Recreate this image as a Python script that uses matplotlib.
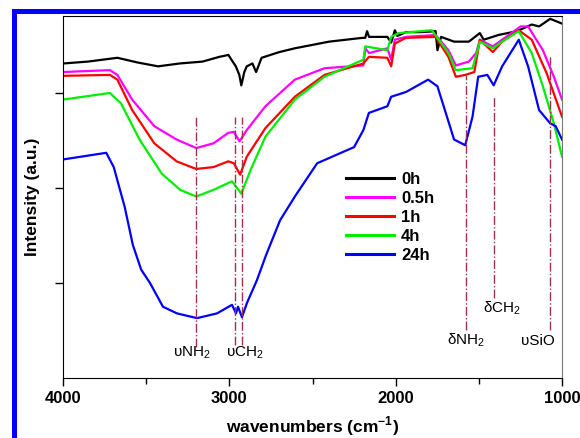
import numpy as np
import matplotlib
matplotlib.use("Agg")
import matplotlib.pyplot as plt
from matplotlib.lines import Line2D

plt.rcParams['font.family'] = ['Liberation Sans', 'DejaVu Sans']
plt.rcParams['mathtext.fontset'] = 'custom'
plt.rcParams['mathtext.rm'] = 'Liberation Sans'
plt.rcParams['mathtext.bf'] = 'Liberation Sans:bold'

# spectra (wavenumber, intensity a.u.)
w_0h = [4000, 3850, 3673, 3550, 3428, 3300, 3161, 3060, 3006, 2961, 2940, 2928, 2910, 2895, 2861, 2839,
        2806, 2700, 2606, 2400, 2200, 2183, 2172, 2160, 2050, 2027, 2005, 1990, 1938, 1850, 1760, 1749,
        1727, 1649, 1560, 1494, 1471, 1382, 1271, 1182, 1138, 1071, 1000]
i_0h = [3.31, 3.33, 3.37, 3.32, 3.28, 3.31, 3.33, 3.38, 3.40, 3.28, 3.19, 3.08, 3.22, 3.28, 3.31, 3.22,
        3.37, 3.43, 3.47, 3.54, 3.58, 3.58, 3.65, 3.59, 3.59, 3.53, 3.66, 3.60, 3.64, 3.64, 3.65, 3.45,
        3.59, 3.54, 3.54, 3.63, 3.56, 3.61, 3.65, 3.72, 3.70, 3.78, 3.73]

w_05h = [4000, 3718, 3673, 3584, 3451, 3317, 3199, 3095, 3006, 2973, 2939, 2895, 2783, 2606, 2428, 2194,
         2183, 2160, 2050, 2027, 2005, 1938, 1760, 1683, 1638, 1560, 1516, 1494, 1416, 1360, 1249, 1204,
         1115, 1049, 1000]
i_05h = [3.22, 3.24, 3.19, 2.93, 2.65, 2.51, 2.42, 2.47, 2.58, 2.59, 2.49, 2.61, 2.86, 3.14, 3.26, 3.29,
         3.47, 3.42, 3.47, 3.35, 3.56, 3.59, 3.61, 3.45, 3.29, 3.33, 3.42, 3.56, 3.49, 3.56, 3.70, 3.70,
         3.45, 3.17, 2.93]

w_1h = [4000, 3718, 3673, 3584, 3451, 3317, 3199, 3095, 3006, 2973, 2935, 2895, 2783, 2606, 2428, 2194,
        2161, 2050, 2027, 2005, 1938, 1760, 1683, 1638, 1582, 1527, 1494, 1416, 1360, 1260, 1182, 1093,
        1000]
i_1h = [3.18, 3.19, 3.14, 2.82, 2.47, 2.28, 2.20, 2.22, 2.28, 2.26, 2.14, 2.33, 2.63, 2.96, 3.19, 3.31,
        3.38, 3.37, 3.28, 3.52, 3.58, 3.59, 3.38, 3.17, 3.19, 3.22, 3.56, 3.43, 3.54, 3.66, 3.56, 3.21,
        2.75]

w_4h = [4000, 3718, 3651, 3540, 3406, 3295, 3199, 3095, 2984, 2928, 2872, 2783, 2606, 2428, 2194, 2183,
        2050, 2027, 1983, 1783, 1683, 1638, 1538, 1494, 1416, 1360, 1260, 1182, 1115, 1049, 1000]
i_4h = [2.93, 3.00, 2.89, 2.51, 2.15, 1.98, 1.91, 1.98, 2.07, 1.94, 2.19, 2.54, 2.93, 3.17, 3.35, 3.49,
        3.45, 3.59, 3.63, 3.66, 3.42, 3.24, 3.26, 3.54, 3.47, 3.54, 3.65, 3.42, 3.07, 2.68, 2.33]

w_24h = [4000, 3740, 3695, 3629, 3580, 3530, 3477, 3399, 3315, 3194, 3074, 2984, 2960, 2948, 2924, 2894,
         2834, 2780, 2695, 2606, 2472, 2250, 2194, 2161, 2050, 2027, 1938, 1805, 1749, 1649, 1582, 1538,
         1504, 1449, 1411, 1360, 1260, 1204, 1138, 1071, 1038, 1000]
i_24h = [2.30, 2.37, 2.22, 1.80, 1.40, 1.14, 1.00, 0.75, 0.68, 0.63, 0.68, 0.77, 0.68, 0.75, 0.64, 0.79,
         1.03, 1.29, 1.66, 1.91, 2.26, 2.43, 2.61, 2.79, 2.86, 2.96, 3.01, 3.14, 3.07, 2.51, 2.45, 2.75,
         3.17, 3.19, 3.08, 3.28, 3.56, 3.28, 2.82, 2.68, 2.65, 2.51]

labels = ['0h', '0.5h', '1h', '4h', '24h']
colors = ['black', '#ff00ff', '#ff0000', '#00ee00', '#0000ff']

# band assignments: position, line top, line bottom, label text, label pos
band_pos = [3200, 2965, 2925, 1580, 1410, 1070]
band_top = [2.77, 2.75, 2.75, 3.19, 2.96, 3.38]
band_bottom = [0.33, 0.35, 0.35, 0.51, 0.84, 0.51]
band_text = ['υNH$_2$', 'υCH$_2$', 'δNH$_2$', 'δCH$_2$', 'υSiO']
band_text_x = [3224, 2906, 1577, 1361, 1144]
band_text_y = [0.27, 0.27, 0.40, 0.73, 0.39]

fig = plt.figure(figsize=(5.8, 4.38), dpi=100)
ax = fig.add_axes([0.1086, 0.137, 0.8604, 0.8265])

series = [(w_0h, i_0h), (w_05h, i_05h), (w_1h, i_1h), (w_4h, i_4h), (w_24h, i_24h)]
for (w, inten), lab, c in zip(series, labels, colors):
    ax.plot(w, inten, color=c, lw=1.6, label=lab)

for x, y0, y1 in zip(band_pos, band_bottom, band_top):
    ax.plot([x, x], [y0, y1], color='#a03050', lw=1.0, ls='-.')
for t, x, y in zip(band_text, band_text_x, band_text_y):
    ax.text(x, y, t, ha='center', va='center', fontsize=11)

ax.set_xlim(4000, 1000)
ax.set_ylim(0, 3.81)
ax.set_xticks([4000, 3000, 2000, 1000])
ax.set_xticks([3500, 2500, 1500], minor=True)
ax.set_yticks([1, 2, 3])
ax.set_yticklabels([])
ax.tick_params(direction='out', length=6, width=1, labelsize=12)
ax.tick_params(which='minor', direction='out', length=4, width=1)
ax.spines['right'].set_color('#777777')
for lab in ax.get_xticklabels():
    lab.set_fontweight('bold')
ax.set_xlabel(r'wavenumbers (cm$^{\mathbf{-1}}$)', fontsize=12.5, fontweight='bold', labelpad=6)
ax.set_ylabel('Intensity (a.u.)', fontsize=12.5, fontweight='bold', labelpad=7)

leg = ax.legend(loc='upper left', bbox_to_anchor=(0.567, 0.57), frameon=False,
                handlelength=2.9, handletextpad=0.4, labelspacing=0.24,
                borderpad=0, borderaxespad=0, prop={'weight': 'bold', 'size': 12})
for h in leg.get_lines():
    h.set_linewidth(2.2)

# blue frame around the figure (clipped at right and bottom)
fig.add_artist(Line2D([0.0241, 0.0241], [0.975, 0.0], color='#0000ff', lw=3.6))
fig.add_artist(Line2D([0.0241, 1.0], [0.975, 0.975], color='#0000ff', lw=3.6))

fig.savefig('out.png', dpi=100)
